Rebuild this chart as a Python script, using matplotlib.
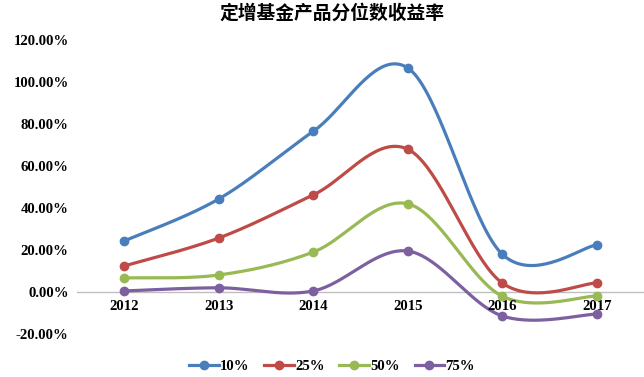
import numpy as np
import matplotlib.pyplot as plt

plt.rcParams['font.family'] = ['Liberation Serif', 'Noto Sans CJK SC']

years = ['2012', '2013', '2014', '2015', '2016', '2017']
labels = ['10%', '25%', '50%', '75%']
p10 = [24.3, 44.3, 76.5, 106.7, 18.0, 22.4]
p25 = [12.4, 25.7, 46.2, 68.0, 4.3, 4.3]
p50 = [6.7, 8.1, 19.0, 42.0, -2.0, -1.9]
p75 = [0.5, 2.0, 0.5, 19.5, -11.4, -10.5]
colors = ['#4A7EBB', '#BE4B48', '#98B954', '#7D60A0']


def smooth(x, y, n=40):
    # excel-like smoothed line (catmull-rom bezier)
    x = np.asarray(x, float)
    y = np.asarray(y, float)
    px = np.concatenate([[x[0]], x, [x[-1]]])
    py = np.concatenate([[y[0]], y, [y[-1]]])
    xs, ys = [], []
    t = np.linspace(0, 1, n)
    for i in range(1, len(px) - 2):
        b0x, b0y = px[i], py[i]
        b3x, b3y = px[i + 1], py[i + 1]
        b1x = b0x + (px[i + 1] - px[i - 1]) / 6
        b1y = b0y + (py[i + 1] - py[i - 1]) / 6
        b2x = b3x - (px[i + 2] - px[i]) / 6
        b2y = b3y - (py[i + 2] - py[i]) / 6
        xs.append((1-t)**3*b0x + 3*(1-t)**2*t*b1x + 3*(1-t)*t**2*b2x + t**3*b3x)
        ys.append((1-t)**3*b0y + 3*(1-t)**2*t*b1y + 3*(1-t)*t**2*b2y + t**3*b3y)
    return np.concatenate(xs), np.concatenate(ys)


fig = plt.figure(figsize=(6.44, 3.77), dpi=100)
ax = fig.add_axes([77/644, 1-334/377, 567/644, 294/377])

x = np.arange(len(years))
for vals, lab, c in zip([p10, p25, p50, p75], labels, colors):
    sx, sy = smooth(x, vals)
    ax.plot(sx, sy, color=c, lw=2.3, zorder=3)
    ax.plot(x, vals, 'o', color=c, ms=6, zorder=4)
    ax.plot([], [], '-o', color=c, lw=2.3, ms=6, label=lab)

ax.set_xlim(-0.5, 5.5)
ax.set_ylim(-20, 120)
ax.axhline(0, color='#BFBFBF', lw=1, zorder=1)
for s in ax.spines.values():
    s.set_visible(False)
ax.set_yticks(range(-20, 121, 20))
ax.set_yticklabels(['%.2f%%' % v for v in range(-20, 121, 20)],
                   fontsize=10.6, fontweight='bold')
ax.set_xticks(x)
ax.set_xticklabels([])
ax.tick_params(length=0, pad=6)
for xi, yr in zip(x, years):
    ax.text(xi, -4, yr, ha='center', va='top', fontsize=10.6, fontweight='bold')

fig.text(332/644, 1-13/377, '定增基金产品分位数收益率', ha='center', va='center',
         fontsize=13.5, fontweight='bold', family=['Noto Sans CJK SC'])
fig.legend(loc='center', bbox_to_anchor=(332/644, 1-366/377), ncol=4, frameon=False,
           prop={'size': 10.6, 'weight': 'bold'}, handlelength=2.0, columnspacing=1.0,
           handletextpad=0.1)

fig.savefig('out.png', dpi=100)
